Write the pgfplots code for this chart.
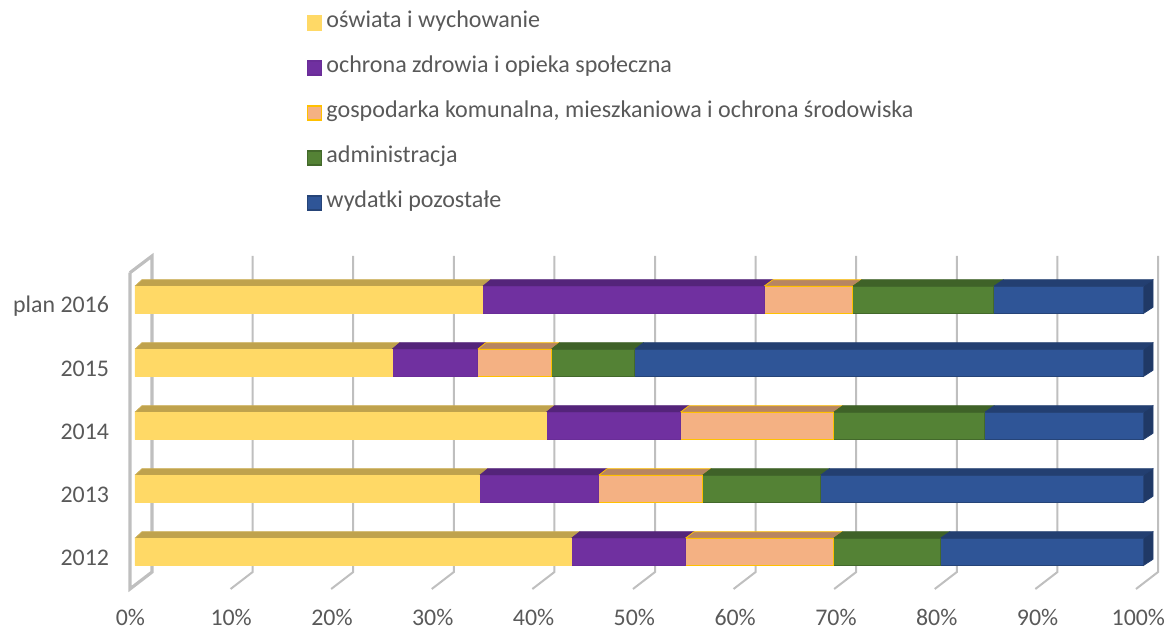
\documentclass[border=0pt]{standalone}
\usepackage{fontspec}
\setmainfont{Carlito}
\usepackage{pgfplots}
\usepackage{pgfplotstable}
\pgfplotsset{compat=1.18}

\definecolor{yel}{HTML}{FFD966}\definecolor{yeltop}{HTML}{BFA24D}
\definecolor{pur}{HTML}{7030A0}\definecolor{purtop}{HTML}{54247A}\definecolor{puredge}{HTML}{6A2D98}
\definecolor{ora}{HTML}{F4B183}\definecolor{oratop}{HTML}{B78562}\definecolor{oraedge}{HTML}{FFC000}
\definecolor{gre}{HTML}{548235}\definecolor{gretop}{HTML}{3F6228}\definecolor{greedge}{HTML}{43692B}
\definecolor{blu}{HTML}{2F5597}\definecolor{blutop}{HTML}{233F71}\definecolor{bluedge}{HTML}{264478}
\definecolor{wall}{HTML}{BFBFBF}\definecolor{txt}{HTML}{595959}

% shares in percent, row 0 = 2012
\pgfplotstableread{
y a b c d e
0 43.3 11.3 14.7 10.6 20.1
1 34.2 11.8 10.3 11.7 32.0
2 40.8 13.3 15.2 15.0 15.7
3 25.5 8.5 7.3 8.3 50.4
4 34.5 27.9 8.8 14.0 14.8
}\shares

\pgfplotsset{base/.style={
  scale only axis, width=756pt, height=249.75pt,
  at={(101.25pt,31.5pt)}, anchor=south west,
  xmin=0, xmax=100, ymin=-0.587, ymax=4.698, clip=false,
}}

% top face of one stacked segment, #2 and #3 are its ends, #4 the row
\newcommand{\topface}[5]{%
  \pgfmathsetmacro\ya{#4+0.218}\pgfmathsetmacro\yb{#4+0.322}%
  \pgfmathsetmacro\xc{0.7+1.003*#2}\pgfmathsetmacro\xd{0.7+1.003*#3}%
  \addplot[fill=#1, draw=#5, line width=0.6pt, line join=round, forget plot]
    coordinates {(#2,\ya) (#3,\ya) (\xd,\yb) (\xc,\yb) (#2,\ya)};
}
\newcommand{\depthrow}[1]{%
  \pgfplotstablegetelem{#1}{a}\of\shares\pgfmathsetmacro\ca{\pgfplotsretval}%
  \pgfplotstablegetelem{#1}{b}\of\shares\pgfmathsetmacro\cb{\ca+\pgfplotsretval}%
  \pgfplotstablegetelem{#1}{c}\of\shares\pgfmathsetmacro\cc{\cb+\pgfplotsretval}%
  \pgfplotstablegetelem{#1}{d}\of\shares\pgfmathsetmacro\cd{\cc+\pgfplotsretval}%
  \topface{yeltop}{0}{\ca}{#1}{yeltop!80!yel}%
  \topface{purtop}{\ca}{\cb}{#1}{purtop}%
  \topface{oratop}{\cb}{\cc}{#1}{oraedge}%
  \topface{gretop}{\cc}{\cd}{#1}{gretop}%
  \topface{blutop}{\cd}{100}{#1}{blutop}%
  \pgfmathsetmacro\ya{#1-0.218}\pgfmathsetmacro\yb{#1+0.218}%
  \pgfmathsetmacro\yc{#1+0.322}\pgfmathsetmacro\yd{#1-0.114}%
  \addplot[fill=blutop!90!black, draw=blutop, line width=0.6pt, forget plot]
    coordinates {(100,\ya) (100,\yb) (101,\yc) (101,\yd) (100,\ya)};
}

\begin{document}
\begin{tikzpicture}
\useasboundingbox (0,0) rectangle (874.5pt,473.25pt);

% walls, gridlines and the faces behind the bars
\begin{axis}[base, hide axis]
  \addplot[draw=wall, line width=2.4pt, line join=miter, forget plot] coordinates
    {(-0.5,4.433) (-0.5,-0.587) (1.69,-0.3175) (1.69,4.698) (-0.5,4.433)};
  \pgfplotsinvokeforeach{9.48,19.46,29.44,39.42,49.40,59.38,69.36,79.34,89.32,99.30}{
    \pgfmathsetmacro\xb{#1+2.19}
    \addplot[draw=wall, line width=1.5pt, forget plot] coordinates
      {(#1,-0.587) (\xb,-0.3175) (\xb,4.698)};
  }
  \pgfplotsinvokeforeach{0,...,4}{\depthrow{#1}}
\end{axis}

% front faces
\begin{axis}[base,
  xbar stacked, bar width=20.4pt,
  axis line style={draw=none}, tick style={draw=none},
  axis on top=false,
  font=\fontsize{17.9}{21}\selectfont, tick label style={text=txt},
  xtick={0,10,...,100},
  xticklabels={0\%,10\%,20\%,30\%,40\%,50\%,60\%,70\%,80\%,90\%,100\%},
  xticklabel style={xshift=-3.5pt, yshift=-15pt, inner sep=0pt},
  ytick={0,1,2,3,4},
  yticklabels={2012,2013,2014,2015,plan 2016},
  yticklabel style={xshift=-16pt, yshift=-4.5pt},
  legend image code/.code={\draw[#1, line width=0.9pt, bar shift=0pt]
    (0pt,-5.6pt) rectangle (10.5pt,4.9pt);},
  legend cell align=left,
  legend style={at={(axis description cs:0.1706,1.738)}, anchor=north west,
    draw=none, fill=none, inner sep=0pt, row sep=15.75pt, text=txt,
    font=\fontsize{18.05}{21}\selectfont,
    nodes={inner sep=0pt, text height=13pt, text depth=5pt}},
]
  \addplot[fill=yel, draw=yel, line width=0.6pt] table[x=a, y=y] {\shares};
  \addplot[fill=pur, draw=puredge, line width=0.6pt] table[x=b, y=y] {\shares};
  \addplot[fill=ora, draw=oraedge, line width=1.1pt] table[x=c, y=y] {\shares};
  \addplot[fill=gre, draw=greedge, line width=0.75pt] table[x=d, y=y] {\shares};
  \addplot[fill=blu, draw=bluedge, line width=0.75pt] table[x=e, y=y] {\shares};
  \addlegendentry{\,oświata i wychowanie}
  \addlegendentry{\,ochrona zdrowia i opieka społeczna}
  \addlegendentry{\,gospodarka komunalna, mieszkaniowa i ochrona środowiska}
  \addlegendentry{\,administracja}
  \addlegendentry{\,wydatki pozostałe}
\end{axis}
\end{tikzpicture}
\end{document}
